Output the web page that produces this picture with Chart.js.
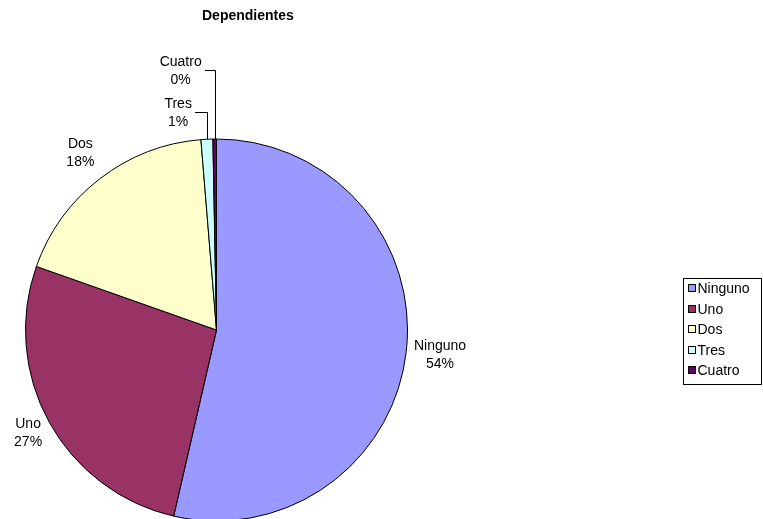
<!DOCTYPE html>
<html>
<head>
<meta charset="utf-8">
<script src="https://cdn.jsdelivr.net/npm/chart.js@4/dist/chart.umd.min.js"></script>
<style>
  html, body { margin: 0; padding: 0; background: #fff; overflow: hidden; }
  #wrap { width: 763px; height: 519px; }
</style>
</head>
<body>
<div id="wrap"><canvas id="c" width="763" height="519"></canvas></div>
<script>
const chartTitle = "Dependientes";
const categories = ["Ninguno", "Uno", "Dos", "Tres", "Cuatro"];
const values = [53.6, 26.8, 18.3, 1.0, 0.3];
const sliceColors = ["#9999FF", "#993366", "#FFFFCC", "#CCFFFF", "#660066"];

const FONT = '"Liberation Sans", Arial, sans-serif';

const labelPlugin = {
  id: 'excelLabels',
  afterDraw(chart) {
    const ctx = chart.ctx;
    const meta = chart.getDatasetMeta(0);
    const ds = chart.data.datasets[0];
    const total = ds.data.reduce((a, b) => a + b, 0);

    // Title
    ctx.save();
    ctx.fillStyle = '#000';
    ctx.font = 'bold 14px ' + FONT;
    ctx.textAlign = 'left';
    ctx.textBaseline = 'alphabetic';
    ctx.fillText(chartTitle, 202, 20);
    ctx.restore();

    // Data labels
    const radialGap = [34, 24, 32];
    const lineH = 18;
    ctx.save();
    ctx.font = '14px ' + FONT;
    ctx.fillStyle = '#000';
    ctx.textBaseline = 'middle';
    meta.data.forEach((arc, i) => {
      const {x, y, startAngle, endAngle, outerRadius} = arc.getProps(['x','y','startAngle','endAngle','outerRadius'], true);
      const pct = Math.round(ds.data[i] / total * 100) + '%';
      const name = chart.data.labels[i];
      const mid = (startAngle + endAngle) / 2;
      const share = ds.data[i] / total;
      ctx.textAlign = 'center';
      if (share > 0.03) {
        const d = outerRadius + radialGap[i];
        const lx = x + Math.cos(mid) * d;
        const ly = y + Math.sin(mid) * d;
        ctx.fillText(name, lx, ly - lineH / 2);
        ctx.fillText(pct, lx, ly + lineH / 2);
      } else {
        const ex = x + Math.cos(mid) * outerRadius;
        const ey = y + Math.sin(mid) * outerRadius;
        const rise = (i === 4) ? 69 : 27;
        const ly = y - outerRadius - rise;
        const hx = ex - (i === 4 ? 10 : 12);
        ctx.strokeStyle = '#000';
        ctx.lineWidth = 1;
        ctx.beginPath();
        ctx.moveTo(Math.round(ex) + 0.5, ey);
        ctx.lineTo(Math.round(ex) + 0.5, Math.round(ly) + 0.5);
        ctx.lineTo(Math.round(hx), Math.round(ly) + 0.5);
        ctx.stroke();
        const w = Math.max(ctx.measureText(name).width, ctx.measureText(pct).width);
        const lx = hx - 3 - w / 2;
        ctx.fillText(name, lx, ly - lineH / 2 + 1);
        ctx.fillText(pct, lx, ly + lineH / 2 + 1);
      }
    });
    ctx.restore();

    // Legend
    const bx = 683.5, by = 278.5, bw = 78, bh = 106;
    ctx.save();
    ctx.strokeStyle = '#000';
    ctx.lineWidth = 1;
    ctx.strokeRect(bx, by, bw, bh);
    ctx.font = '14px ' + FONT;
    ctx.textAlign = 'left';
    ctx.textBaseline = 'middle';
    chart.data.labels.forEach((lab, i) => {
      const ry = Math.round(288 + i * 20.5);
      ctx.fillStyle = ds.backgroundColor[i];
      ctx.fillRect(688.5, ry - 3.5, 7, 7);
      ctx.strokeRect(688.5, ry - 3.5, 7, 7);
      ctx.fillStyle = '#000';
      ctx.fillText(lab, 697.5, ry + 1);
    });
    ctx.restore();
  }
};

new Chart(document.getElementById('c'), {
  type: 'pie',
  data: {
    labels: categories,
    datasets: [{
      data: values,
      backgroundColor: sliceColors,
      borderColor: '#000',
      borderWidth: 1,
      radius: 191
    }]
  },
  options: {
    responsive: false,
    animation: false,
    layout: { padding: { left: 25, right: 355, top: 141, bottom: 0 } },
    plugins: {
      legend: { display: false },
      title: { display: false },
      tooltip: { enabled: false }
    }
  },
  plugins: [labelPlugin]
});
</script>
</body>
</html>
